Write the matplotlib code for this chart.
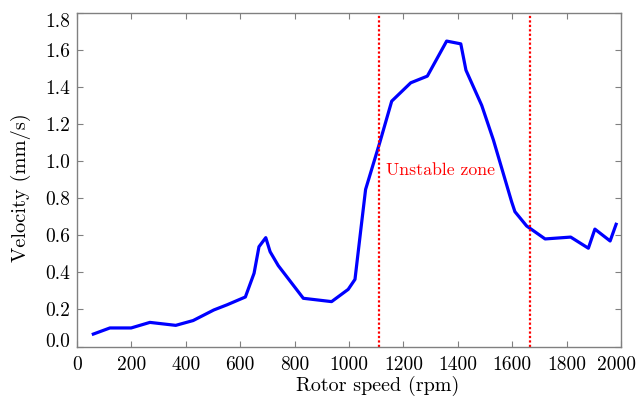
import matplotlib
matplotlib.use("Agg")
import matplotlib.pyplot as plt
from matplotlib.transforms import ScaledTranslation

plt.rcParams['font.family'] = ['cmr10', 'DejaVu Serif']
plt.rcParams['axes.formatter.use_mathtext'] = True
plt.rcParams['font.size'] = 14

speed = [60, 121, 199, 268, 363, 427, 503, 552, 619, 651, 669, 694, 710, 740,
         832, 936, 997, 1022, 1044, 1061, 1114, 1157, 1227, 1288, 1359, 1411,
         1430, 1488, 1531, 1598, 1610, 1653, 1721, 1815, 1880, 1904, 1960, 1982]
velocity = [0.067, 0.10, 0.10, 0.13, 0.114, 0.14, 0.197, 0.225, 0.267, 0.395,
            0.538, 0.587, 0.511, 0.436, 0.26, 0.242, 0.308, 0.362, 0.637, 0.847,
            1.104, 1.323, 1.422, 1.458, 1.647, 1.632, 1.49, 1.30, 1.113, 0.78,
            0.727, 0.65, 0.58, 0.59, 0.53, 0.633, 0.569, 0.659]
zone_edges = [1110, 1665]
zone_label = "Unstable zone"

fig = plt.figure(figsize=(6.39, 3.99), dpi=100)
ax = fig.add_axes([77/639, 1 - 346.5/399, (621-77)/639, (346.5-12.7)/399])

ax.plot(speed, velocity, color='#0000ff', lw=2.3)
for xe in zone_edges:
    ax.axvline(xe, color='#ff0000', lw=1.6, ls=(0, (1, 1)))
ax.text(1137, 0.95, zone_label, color='#ff0000', fontsize=12.8, va='center')

ax.set_xlim(0, 2000)
ax.set_ylim(0, 1.8)
ax.set_xticks(range(0, 2001, 200))
ax.set_yticks([0.0, 0.2, 0.4, 0.6, 0.8, 1.0, 1.2, 1.4, 1.6, 1.8])
ax.set_yticklabels([f"{v:.1f}" for v in ax.get_yticks()])
ax.set_xticklabels([str(v) for v in range(0, 2001, 200)])
ax.tick_params(direction='in', top=True, right=True, length=4, width=0.8,
               color='#808080', labelsize=14)
ax.tick_params(axis='x', pad=7)
ax.tick_params(axis='y', pad=5)
for s in ax.spines.values():
    s.set_color('#808080')
    s.set_linewidth(1.0)

# edge labels are pushed inside the axes range, as in the original
ylabels = ax.get_yticklabels()
ylabels[0].set_transform(ylabels[0].get_transform() + ScaledTranslation(0, 4.5/72, fig.dpi_scale_trans))
ylabels[-1].set_transform(ylabels[-1].get_transform() + ScaledTranslation(0, -5.5/72, fig.dpi_scale_trans))
xlabels = ax.get_xticklabels()
xlabels[-1].set_transform(xlabels[-1].get_transform() + ScaledTranslation(-3/72, 0, fig.dpi_scale_trans))

ax.set_xlabel("Rotor speed (rpm)", fontsize=14.5)
ax.set_ylabel("Velocity (mm/s)", fontsize=14.7)
ax.xaxis.set_label_coords(0.552, -0.087)
ax.yaxis.set_label_coords(-0.085, 0.475)

fig.savefig("out.png", dpi=100)
